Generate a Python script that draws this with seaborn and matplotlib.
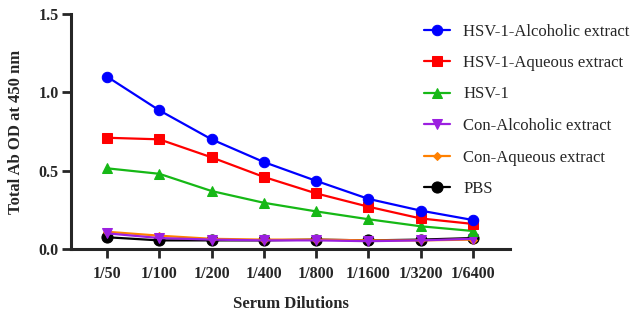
import matplotlib
matplotlib.use("Agg")
import matplotlib.pyplot as plt
import seaborn as sns
import pandas as pd

dilutions = ["1/50", "1/100", "1/200", "1/400", "1/800", "1/1600", "1/3200", "1/6400"]
series_names = ["HSV-1-Alcoholic extract", "HSV-1-Aqueous extract", "HSV-1",
                "Con-Alcoholic extract", "Con-Aqueous extract", "PBS"]
hsv_alc = [1.10, 0.885, 0.70, 0.555, 0.435, 0.32, 0.245, 0.185]
hsv_aq = [0.71, 0.70, 0.585, 0.46, 0.355, 0.27, 0.195, 0.16]
hsv = [0.515, 0.48, 0.37, 0.295, 0.24, 0.19, 0.145, 0.115]
con_alc = [0.10, 0.07, 0.06, 0.055, 0.055, 0.05, 0.055, 0.065]
con_aq = [0.11, 0.085, 0.065, 0.06, 0.06, 0.055, 0.055, 0.06]
pbs = [0.075, 0.055, 0.055, 0.055, 0.06, 0.055, 0.06, 0.07]
values = [hsv_alc, hsv_aq, hsv, con_alc, con_aq, pbs]

colors = ["#0000ff", "#ff0000", "#16b816", "#9b1fe0", "#ff8000", "#000000"]
markers = ["o", "s", "^", "v", "D", "o"]
msizes = [7.5, 7.5, 7.5, 7.5, 4.5, 8]

sns.set_theme(style="ticks")
plt.rcParams["font.family"] = ["Liberation Serif", "DejaVu Serif"]

fig = plt.figure(figsize=(6.39, 3.18), dpi=100)
ax = fig.add_axes([71/639, 69/318, (510-71)/639, (249-14)/318])

for i in reversed(range(len(series_names))):
    df = pd.DataFrame({"x": range(len(dilutions)), "y": values[i]})
    sns.lineplot(data=df, x="x", y="y", ax=ax, color=colors[i], marker=markers[i],
                 markersize=msizes[i], markeredgecolor=colors[i], linewidth=1.6,
                 label=series_names[i], zorder=3 + (len(series_names) - i))

h, l = ax.get_legend_handles_labels()
order = [l.index(n) for n in series_names]
ax.legend([h[k] for k in order], [l[k] for k in order], loc="upper left",
          bbox_to_anchor=(424/639, 1 - 23.5/318), bbox_transform=fig.transFigure,
          frameon=False, fontsize=12, labelspacing=0.93, handlelength=1.55,
          handletextpad=0.8, borderpad=0, borderaxespad=0)

ax.set_xlim(-0.69, 7.71)
ax.set_ylim(0, 1.5)
ax.set_xticks(range(len(dilutions)))
ax.set_xticklabels(dilutions)
ax.set_yticks([0, 0.5, 1.0, 1.5])
ax.set_yticklabels(["0.0", "0.5", "1.0", "1.5"])
for lab in ax.get_xticklabels() + ax.get_yticklabels():
    lab.set_fontweight("bold")
    lab.set_fontsize(11.5)
ax.tick_params(axis="both", direction="out", length=6.5, width=2, pad=2.5)
ax.tick_params(axis="x", pad=6)
ax.set_xlabel("Serum Dilutions", fontsize=12, fontweight="bold", labelpad=10)
ax.set_ylabel("Total Ab OD at 450 nm", fontsize=12, fontweight="bold", labelpad=10)
for s in ["top", "right"]:
    ax.spines[s].set_visible(False)
for s in ["left", "bottom"]:
    ax.spines[s].set_linewidth(2.2)

fig.savefig("out.png", dpi=100)
